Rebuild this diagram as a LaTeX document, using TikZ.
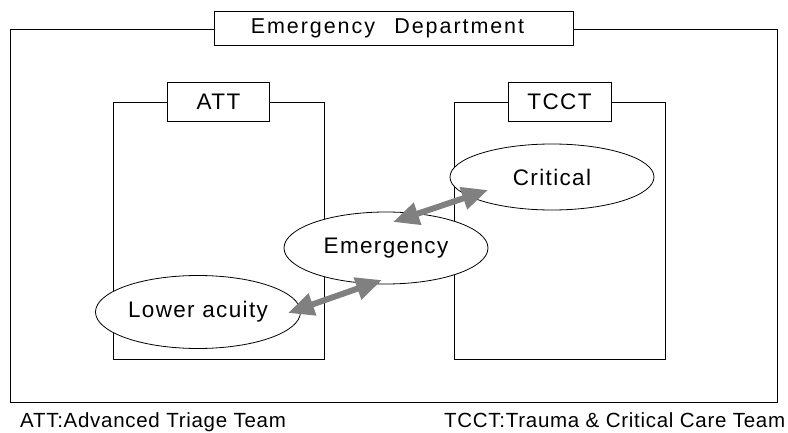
\documentclass[tikz,border=0pt]{standalone}
\usepackage{fontspec}
\setmainfont{Liberation Sans}[LetterSpace=6]
\usetikzlibrary{shapes.geometric,arrows.meta}
\begin{document}
\begin{tikzpicture}[x=1pt,y=-1pt,
		unitbox/.style={draw,line width=.8pt,inner sep=0pt},
		tabbox/.style={draw,line width=.8pt,fill=white,inner sep=0pt,font=\fontsize{22.5}{24}\selectfont},
		acuity/.style={draw,ellipse,line width=.8pt,fill=white,inner sep=0pt,font=\fontsize{22.5}{24}\selectfont},
		twoway/.style={draw=gray,line width=6pt,{Triangle[length=26pt,width=22pt]}-{Triangle[length=26pt,width=22pt]}},
		note/.style={anchor=base west,inner sep=0pt,font=\fontsize{20.5}{22}\selectfont\addfontfeature{LetterSpace=3.5}}]
		\useasboundingbox (0,0) rectangle (788,433);
		% departments
		\node[unitbox,minimum width=767pt,minimum height=373pt] (ed) at (393.5,215.5) {};
		\node[unitbox,minimum width=211pt,minimum height=257pt] (att) at (218.5,230.5) {};
		\node[unitbox,minimum width=211pt,minimum height=257pt] (tcct) at (559.5,230.5) {};
		\node[tabbox,minimum width=359pt,minimum height=34pt,font=\fontsize{21.5}{22}\selectfont\addfontfeature{LetterSpace=9}] (edtab) at (ed.north) {Emergency\hspace{.9em}Department\hspace*{12pt}};
		\node[tabbox,minimum width=102pt,minimum height=39pt] (atttab) at (att.north) {ATT};
		\node[tabbox,minimum width=103pt,minimum height=39pt] (tccttab) at (tcct.north) {TCCT};
		% patients
		\node[acuity,minimum width=204pt,minimum height=66pt] (crit) at (552,177) {Critical};
		\node[acuity,minimum width=204pt,minimum height=72pt] (emer) at (386,248) {Emergency};
		\node[acuity,minimum width=205pt,minimum height=73pt] (low) at (198,312) {Lower acuity};
		\draw[twoway] ([shift={(90,1)}]low.center) -- ([shift={(-4,32)}]emer.center);
		\draw[twoway] ([shift={(7,-26)}]emer.center) -- ([shift={(-64,13)}]crit.center);
		% legend
		\node[note] (attnote) at (20,427) {ATT:Advanced Triage Team};
		\node[note] (tcctnote) at (444,427) {TCCT:Trauma \& Critical Care Team};
	\end{tikzpicture}
\end{document}
